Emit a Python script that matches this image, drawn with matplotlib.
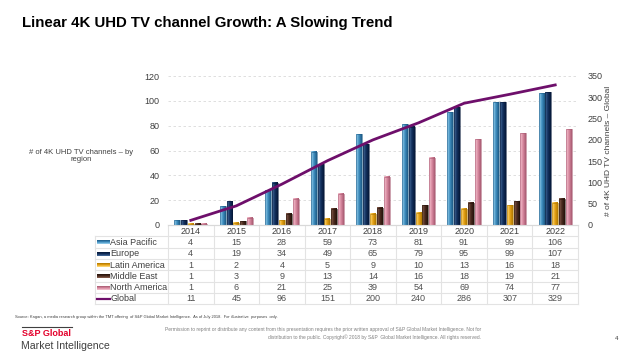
import numpy as np
import matplotlib
matplotlib.use("Agg")
import matplotlib.pyplot as plt
from matplotlib.colors import LinearSegmentedColormap

plt.rcParams['font.family'] = ['Liberation Sans', 'DejaVu Sans']

# data
years = ['2014', '2015', '2016', '2017', '2018', '2019', '2020', '2021', '2022']
asia_pacific = [4, 15, 28, 59, 73, 81, 91, 99, 106]
europe = [4, 19, 34, 49, 65, 79, 95, 99, 107]
latin_america = [1, 2, 4, 5, 9, 10, 13, 16, 18]
middle_east = [1, 3, 9, 13, 14, 16, 18, 19, 21]
north_america = [1, 6, 21, 25, 39, 54, 69, 74, 77]
global_total = [11, 45, 96, 151, 200, 240, 286, 307, 329]

series = [
    ('Asia Pacific', asia_pacific, ('#9fd3ee', '#3f8fc0', '#1d5a86')),
    ('Europe', europe, ('#4a6e9c', '#12305e', '#061838')),
    ('Latin America', latin_america, ('#fde08a', '#e8a316', '#b07800')),
    ('Middle East', middle_east, ('#8a6252', '#4a2a1e', '#24120a')),
    ('North America', north_america, ('#f6c6d2', '#d98aa0', '#a85a72')),
]
line_color = '#6e0f6b'

W, H = 640, 360
fig = plt.figure(figsize=(6.4, 3.6), dpi=100)

def fx(px):
    return px / W

def fy(py):
    return 1 - py / H

# main plot area
left, right, top, bottom = 168, 578, 76, 225
ax = fig.add_axes([fx(left), fy(bottom), fx(right - left), (bottom - top) / H])
ax2 = ax.twinx()

x = np.arange(len(years))
bw = 0.13
step = 0.15

for i, (name, vals, cols) in enumerate(series):
    cmap = LinearSegmentedColormap.from_list(name, cols)
    grad = np.linspace(0, 1, 32).reshape(1, -1)
    for xi, v in zip(x, vals):
        x0 = xi + (i - 2) * step - bw / 2
        ax.imshow(grad, cmap=cmap, aspect='auto', extent=(x0, x0 + bw, 0, v),
                  origin='lower', zorder=3, interpolation='bilinear')
        ax.add_patch(plt.Rectangle((x0, 0), bw, v, fill=False, ec=cols[2],
                                   lw=0.4, zorder=4))
ax.set_xlim(-0.5, len(years) - 0.5)
ax.set_ylim(0, 120)

ax2.plot(x, global_total, color=line_color, lw=2, zorder=5)
ax2.set_ylim(0, 350)
ax2.set_yticks(range(0, 351, 50))

ax.set_yticks(range(0, 121, 20))
ax.yaxis.grid(True, color='#d9d9d9', ls=(0, (3, 3)), lw=0.6)
ax.set_axisbelow(True)
ax.set_xticks([])
for a in (ax, ax2):
    for s in ('top', 'left', 'right'):
        a.spines[s].set_visible(False)
    a.spines['bottom'].set_color('#d9d9d9')
    a.tick_params(length=0, labelsize=6.5, labelcolor='#404040')
ax.tick_params(axis='y', pad=6)
ax2.tick_params(axis='y', pad=7)

fig.text(fx(81), fy(156), '# of 4K UHD TV channels \u2013 by\nregion', ha='center',
         va='center', fontsize=5.5, color='#404040', linespacing=1.15)
fig.text(fx(608), fy(151), '# of 4K UHD TV channels \u2013 Global', ha='center',
         va='center', rotation=90, fontsize=6.0, color='#404040')

# data table below the plot
tab = fig.add_axes([0, 0, 1, 1], zorder=-1)
tab.axis('off')
colw = (right - left) / len(years)
row_h = 11.3
tab_top = bottom
rows_y = [tab_top + row_h * (k + 1) for k in range(7)]
grid_c = '#e3e3e3'
for yy in rows_y:
    tab.plot([95, right], [yy, yy], color=grid_c, lw=0.8)
tab.plot([95, 95], [rows_y[0], rows_y[-1]], color=grid_c, lw=0.8)
for j in range(len(years) + 1):
    tab.plot([left + j * colw] * 2, [tab_top, rows_y[-1]], color=grid_c, lw=0.8)
for j, yr in enumerate(years):
    tab.text(left + (j + 0.5) * colw, tab_top + row_h / 2 + 0.5, yr, ha='center',
             va='center', fontsize=6.5, color='#404040')
table_rows = [(n, v, c) for n, v, c in series] + [('Global', global_total, None)]
for k, (name, vals, cols) in enumerate(table_rows):
    yc = tab_top + row_h * (k + 1.5) + 0.5
    if cols is not None:
        cmap = LinearSegmentedColormap.from_list(name + 'l', [cols[0], cols[1], cols[2]])
        grad = np.linspace(0, 1, 16).reshape(-1, 1)
        tab.imshow(grad, cmap=cmap, aspect='auto', extent=(97, 110, yc - 2, yc + 2),
                   zorder=2)
    else:
        tab.plot([97, 110], [yc, yc], color=line_color, lw=1.6)
    tab.text(110.5, yc, name, ha='left', va='center', fontsize=6.5, color='#404040')
    for j, v in enumerate(vals):
        tab.text(left + (j + 0.5) * colw, yc, str(v), ha='center', va='center',
                 fontsize=6.5, color='#505050')
tab.set_xlim(0, W)
tab.set_ylim(H, 0)

# title and footer
fig.text(fx(22), fy(23), 'Linear 4K UHD TV channel Growth: A Slowing Trend',
         ha='left', va='center', fontsize=10.8, fontweight='bold', color='black')
fig.text(fx(15), fy(317), 'Source: Kagan, a media research group within the TMT offering  of S&P Global '
         'Market Intelligence.  As of July 2018.  For illustrative  purposes  only.',
         ha='left', va='center', fontsize=2.9, color='#404040')
tab.plot([22, 72], [327, 327], color='#404040', lw=0.8)
fig.text(fx(22), fy(334), 'S&P Global', ha='left', va='center', fontsize=6.5,
         fontweight='bold', color='#e4002b')
fig.text(fx(21), fy(346), 'Market Intelligence', ha='left', va='center', fontsize=7.6,
         color='#404040')
fig.text(fx(481), fy(330), 'Permission to reprint or distribute any content from this presentation '
         'requires the prior written approval of S&P Global Market Intelligence. Not for',
         ha='right', va='center', fontsize=3.5, color='#808080')
fig.text(fx(481), fy(337), 'distribution to the public. Copyright\u00a9 2018 by S&P  Global Market '
         'Intelligence. All rights reserved.', ha='right', va='center', fontsize=3.5,
         color='#808080')
fig.text(fx(617), fy(338), '4', ha='center', va='center', fontsize=4.5, color='#404040')

fig.savefig('out.png', dpi=100)
